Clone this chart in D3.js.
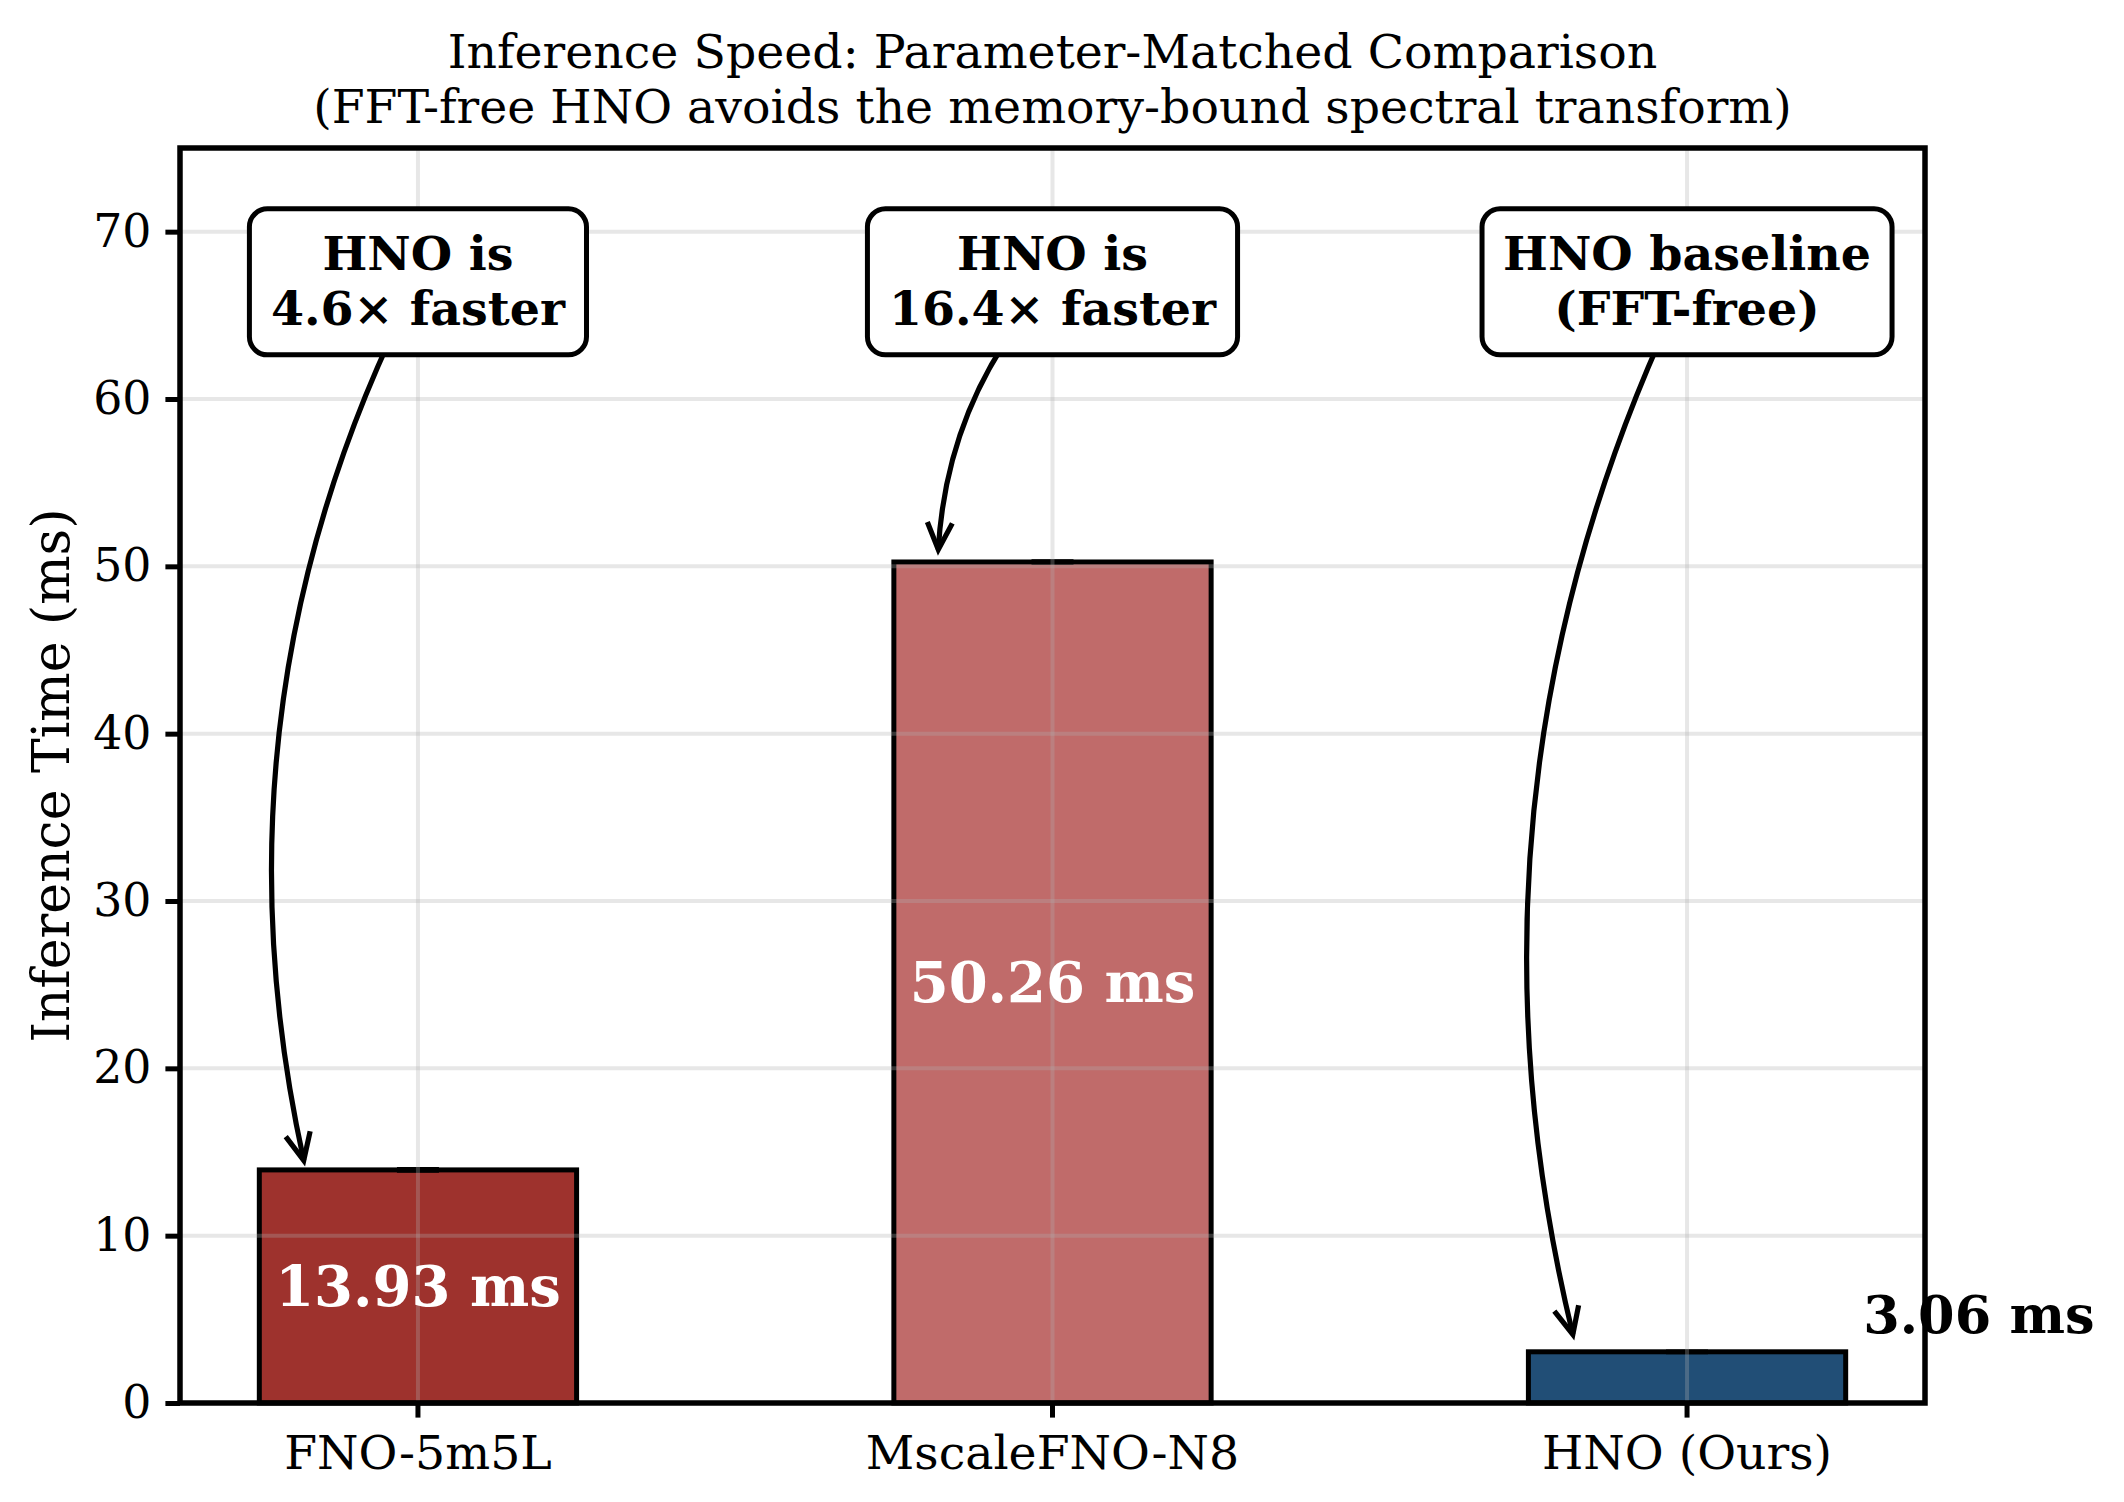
<!DOCTYPE html>
<html>
<head>
<meta charset="utf-8">
<script src="https://cdn.jsdelivr.net/npm/d3@7"></script>
<style>
  body { margin: 0; background: #fff; }
  text { font-family: 'DejaVu Serif', serif; }
</style>
</head>
<body>
<div class="canvas"></div>
<script>
// data
const models = ['FNO-5m5L', 'MscaleFNO-N8', 'HNO (Ours)'];
const times = [13.93, 50.26, 3.06];
const timeStd = [0.05, 0.04, 0.02];
const barColors = ['#9e322d', '#c06b6a', '#214e76'];
const yTicks = [0, 10, 20, 30, 40, 50, 60, 70];
const noteLines = [['HNO is', '4.6× faster'], ['HNO is', '16.4× faster'], ['HNO baseline', '(FFT-free)']];
const noteLevel = 67;
const arrowTips = [14.5, 51.0, 4.1];

const width = 2124, height = 1502;
const margin = { top: 148, right: 199, bottom: 99, left: 180 };
const graphWidth = width - margin.left - margin.right;
const graphHeight = height - margin.top - margin.bottom;

const svg = d3.select('.canvas')
  .append('svg')
    .attr('width', width)
    .attr('height', height);

const graph = svg.append('g')
  .attr('transform', `translate(${margin.left}, ${margin.top})`);

const x = d3.scaleBand()
  .domain(models)
  .range([0, graphWidth])
  .paddingInner(0.5)
  .paddingOuter(0.125);

const y = d3.scaleLinear()
  .domain([0, 75])
  .range([graphHeight, 0]);

const cx = (i, off = 0) => x(models[i]) + x.bandwidth() / 2 + off * x.step();

// bars
graph.selectAll('rect.bar')
  .data(times)
  .enter()
  .append('rect')
    .attr('class', 'bar')
    .attr('x', (d, i) => x(models[i]))
    .attr('y', d => y(d))
    .attr('width', x.bandwidth())
    .attr('height', d => graphHeight - y(d))
    .attr('fill', (d, i) => barColors[i])
    .attr('stroke', '#000')
    .attr('stroke-width', 5);

// tiny error bars
const caps = graph.append('g');
times.forEach((t, i) => {
  caps.append('line')
    .attr('x1', cx(i)).attr('x2', cx(i))
    .attr('y1', y(t - timeStd[i])).attr('y2', y(t + timeStd[i]))
    .attr('stroke', '#000').attr('stroke-width', 4);
  [t - timeStd[i], t + timeStd[i]].forEach(v => {
    caps.append('line')
      .attr('x1', cx(i) - 21).attr('x2', cx(i) + 21)
      .attr('y1', y(v)).attr('y2', y(v))
      .attr('stroke', '#000').attr('stroke-width', 4);
  });
});

// grid (drawn over the bars, semi transparent)
const grid = graph.append('g')
  .attr('stroke', '#b0b0b0')
  .attr('stroke-opacity', 0.3)
  .attr('stroke-width', 4);
grid.selectAll('line.h')
  .data(yTicks)
  .enter()
  .append('line')
    .attr('x1', 0).attr('x2', graphWidth)
    .attr('y1', d => y(d)).attr('y2', d => y(d));
grid.selectAll('line.v')
  .data(models)
  .enter()
  .append('line')
    .attr('x1', d => x(d) + x.bandwidth() / 2).attr('x2', d => x(d) + x.bandwidth() / 2)
    .attr('y1', 0).attr('y2', graphHeight);

// axes
const xAxisGroup = graph.append('g')
  .attr('transform', `translate(0, ${graphHeight})`)
  .call(d3.axisBottom(x).tickSize(14.6).tickPadding(18));
const yAxisGroup = graph.append('g')
  .call(d3.axisLeft(y).tickValues(yTicks).tickSize(14.6).tickPadding(14));

[xAxisGroup, yAxisGroup].forEach(g => {
  g.select('.domain').remove();
  g.selectAll('line').attr('stroke', '#000').attr('stroke-width', 5);
  g.selectAll('text')
    .attr('fill', '#000')
    .style('font-family', "'DejaVu Serif', serif");
});
xAxisGroup.selectAll('text').style('font-size', '47.4px');
yAxisGroup.selectAll('text').style('font-size', '45.8px');

// frame
graph.append('rect')
  .attr('width', graphWidth)
  .attr('height', graphHeight)
  .attr('fill', 'none')
  .attr('stroke', '#000')
  .attr('stroke-width', 5.5);

// value labels
graph.selectAll('text.val')
  .data(times)
  .enter()
  .append('text')
    .attr('class', 'val')
    .attr('x', (d, i) => d > 10 ? cx(i) : cx(i, 0.46))
    .attr('y', d => d > 10 ? y(d / 2) + 20 : y(d + 1.1))
    .attr('text-anchor', 'middle')
    .attr('fill', d => d > 10 ? '#fff' : '#000')
    .style('font-size', d => d > 10 ? '56px' : '52.5px')
    .style('font-weight', 'bold')
    .text(d => `${d.toFixed(2)} ms`);

// annotations: curved arrows (arc3) then boxes on top
const rad = 0.18;
const lineGap = 55;
const notes = graph.append('g');
noteLines.forEach((lines, i) => {
  const a = [cx(i), y(noteLevel)];
  const b = [cx(i, -0.18), y(arrowTips[i])];
  const mx = (a[0] + b[0]) / 2, my = (a[1] + b[1]) / 2;
  const dx = b[0] - a[0], dy = b[1] - a[1];
  // matplotlib arc3 control point (y up), converted for svg y down
  const c = [mx - rad * dy, my + rad * dx];
  notes.append('path')
    .attr('d', `M${a[0]},${a[1]} Q${c[0]},${c[1]} ${b[0]},${b[1]}`)
    .attr('fill', 'none')
    .attr('stroke', '#000')
    .attr('stroke-width', 5.2);
  const ux = b[0] - c[0], uy = b[1] - c[1];
  const len = Math.hypot(ux, uy);
  const u = [ux / len, uy / len], n = [-u[1], u[0]];
  const hl = 27, hw = 12.5;
  notes.append('path')
    .attr('d', `M${b[0] - hl * u[0] + hw * n[0]},${b[1] - hl * u[1] + hw * n[1]} L${b[0]},${b[1]} L${b[0] - hl * u[0] - hw * n[0]},${b[1] - hl * u[1] - hw * n[1]}`)
    .attr('fill', 'none')
    .attr('stroke', '#000')
    .attr('stroke-width', 5.2);

  const box = notes.append('g');
  const rect = box.append('rect');
  lines.forEach((line, k) => {
    box.append('text')
      .attr('class', 'note')
      .attr('x', a[0])
      .attr('y', a[1] + (k - 0.5) * lineGap + 16)
      .attr('text-anchor', 'middle')
      .style('font-size', '47.5px')
      .style('font-weight', 'bold')
      .text(line);
  });
  const widest = d3.max(box.selectAll('text.note').nodes(), nd => nd.getBBox().width);
  const pad = 21;
  rect.attr('x', a[0] - widest / 2 - pad)
    .attr('y', a[1] - 73)
    .attr('width', widest + 2 * pad)
    .attr('height', 146)
    .attr('rx', 18)
    .attr('fill', '#fff')
    .attr('stroke', '#000')
    .attr('stroke-width', 5);
});

// title and y label
svg.selectAll('text.title')
  .data(['Inference Speed: Parameter-Matched Comparison', '(FFT-free HNO avoids the memory-bound spectral transform)'])
  .enter()
  .append('text')
    .attr('class', 'title')
    .attr('x', margin.left + graphWidth / 2)
    .attr('y', (d, i) => 68 + i * 55)
    .attr('text-anchor', 'middle')
    .style('font-size', '47.4px')
    .text(d => d);

svg.append('text')
  .attr('transform', `translate(69, ${margin.top + graphHeight / 2}) rotate(-90)`)
  .attr('text-anchor', 'middle')
  .style('font-size', '52px')
  .text('Inference Time (ms)');
</script>
</body>
</html>
